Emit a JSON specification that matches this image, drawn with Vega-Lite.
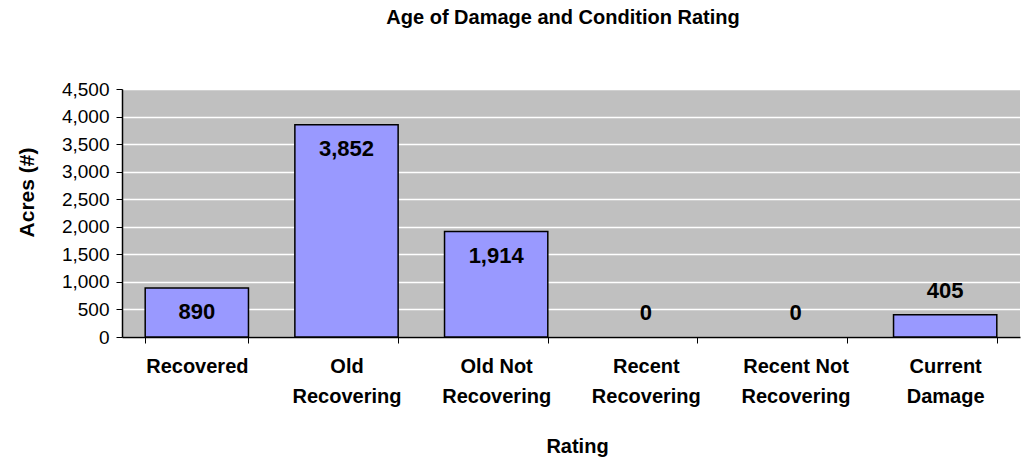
{
  "$schema": "https://vega.github.io/schema/vega-lite/v6.json",
  "width": 898,
  "height": 248,
  "autosize": {"type": "none"},
  "padding": {"left": 122, "top": 89, "right": 2, "bottom": 129},
  "background": "white",
  "title": {
    "text": "Age of Damage and Condition Rating",
    "font": "Liberation Sans",
    "fontSize": 20,
    "fontWeight": "bold",
    "color": "black",
    "anchor": "middle",
    "offset": 52,
    "dx": -8
  },
  "config": {
    "view": {"fill": "#C0C0C0", "stroke": null},
    "font": "Liberation Sans"
  },
  "data": {
    "values": [
      {"rating": "Recovered", "acres": 890},
      {"rating": "Old Recovering", "acres": 3852},
      {"rating": "Old Not Recovering", "acres": 1914},
      {"rating": "Recent Recovering", "acres": 0},
      {"rating": "Recent Not Recovering", "acres": 0},
      {"rating": "Current Damage", "acres": 405}
    ]
  },
  "encoding": {
    "x": {
      "field": "rating",
      "type": "nominal",
      "sort": ["Recovered", "Old Recovering", "Old Not Recovering", "Recent Recovering", "Recent Not Recovering", "Current Damage"],
      "scale": {
        "domain": ["Recovered", "Old Recovering", "Old Not Recovering", "Recent Recovering", "Recent Not Recovering", "Current Damage"],
        "paddingInner": 0.31,
        "paddingOuter": 0.155
      },
      "axis": {
        "title": "Rating",
        "titleFont": "Liberation Sans",
        "titleFontSize": 20,
        "titleFontWeight": "bold",
        "titleColor": "black",
        "titlePadding": 30,
        "titleX": 455,
        "labelAngle": 0,
        "labelFont": "Liberation Sans",
        "labelFontSize": 20,
        "labelFontWeight": "bold",
        "labelColor": "black",
        "labelPadding": 13,
        "labelLineHeight": 30,
        "labelBaseline": "top",
        "labelExpr": "datum.value == 'Old Recovering' ? ['Old', 'Recovering'] : datum.value == 'Old Not Recovering' ? ['Old Not', 'Recovering'] : datum.value == 'Recent Recovering' ? ['Recent', 'Recovering'] : datum.value == 'Recent Not Recovering' ? ['Recent Not', 'Recovering'] : datum.value == 'Current Damage' ? ['Current', 'Damage'] : datum.value",
        "tickBand": "extent",
        "tickColor": "black",
        "tickSize": 6,
        "domainColor": "black",
        "domainWidth": 1.5,
        "grid": false
      }
    },
    "y": {
      "field": "acres",
      "type": "quantitative",
      "scale": {"domain": [0, 4500], "nice": false},
      "axis": {
        "title": "Acres (#)",
        "titleFont": "Liberation Sans",
        "titleFontSize": 21,
        "titleFontWeight": "bold",
        "titleColor": "black",
        "titlePadding": 24,
        "titleY": 103,
        "values": [0, 500, 1000, 1500, 2000, 2500, 3000, 3500, 4000, 4500],
        "format": ",.0f",
        "labelFont": "Liberation Sans",
        "labelFontSize": 19,
        "labelColor": "black",
        "labelPadding": 7,
        "tickColor": "black",
        "tickSize": 6,
        "domainColor": "black",
        "domainWidth": 1.5,
        "grid": true,
        "gridColor": "white",
        "gridWidth": 1.5,
        "gridOpacity": 1
      }
    }
  },
  "layer": [
    {
      "transform": [{"filter": "datum.acres > 0"}],
      "mark": {"type": "bar", "color": "#9999FF", "stroke": "black", "strokeWidth": 1.5}
    },
    {
      "transform": [{"filter": "datum.acres >= 800"}],
      "mark": {"type": "text", "dy": 24, "font": "Liberation Sans", "fontSize": 22, "fontWeight": "bold", "color": "black", "baseline": "middle"},
      "encoding": {
        "text": {"field": "acres", "type": "quantitative", "format": ",.0f"}
      }
    },
    {
      "transform": [{"filter": "datum.acres < 800"}],
      "mark": {"type": "text", "dy": -24, "font": "Liberation Sans", "fontSize": 22, "fontWeight": "bold", "color": "black", "baseline": "middle"},
      "encoding": {
        "text": {"field": "acres", "type": "quantitative", "format": ",.0f"}
      }
    }
  ]
}
